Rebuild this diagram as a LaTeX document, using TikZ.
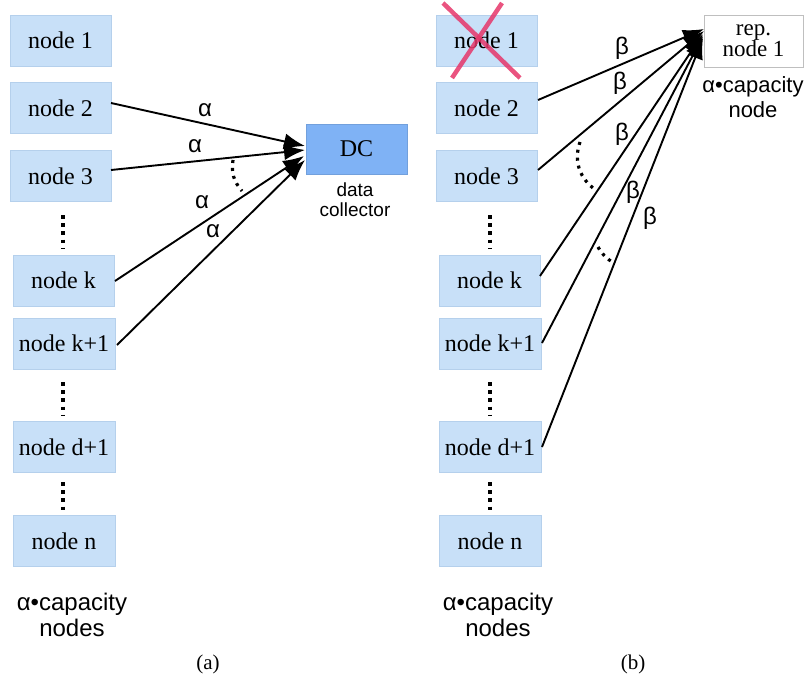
\documentclass[tikz,border=0pt]{standalone}
\usepackage{fontspec}
\setmainfont{Liberation Serif}
\setsansfont{Liberation Sans}
\usetikzlibrary{arrows.meta}
\definecolor{boxblue}{HTML}{C8E0F8}
\definecolor{boxedge}{HTML}{B5D0EC}
\definecolor{dcblue}{HTML}{7FB2F5}
\definecolor{xred}{HTML}{E6366A}
\tikzset{
  nbox/.style={fill=boxblue, draw=boxedge, line width=0.6pt, minimum width=101pt, minimum height=51pt, inner sep=0pt, font=\fontsize{24}{26}\selectfont},
  dcbox/.style={fill=dcblue, draw=dcblue!90!black, line width=0.6pt, minimum width=101pt, minimum height=50pt, inner sep=0pt, font=\fontsize{24}{26}\selectfont},
  repbox/.style={fill=white, draw=black!25, line width=1pt, minimum width=99pt, minimum height=52pt, inner sep=0pt, align=center, font=\fontsize{23}{21}\selectfont},
  flow/.style={line width=1.9pt, -{Latex[length=21pt,width=16pt]}},
  glab/.style={font=\sffamily\fontsize{24}{24}\selectfont, inner sep=0pt},
  vdots/.style={line width=3.6pt, dash pattern=on 3.6pt off 4.6pt},
  arcdots/.style={line width=3.2pt, dash pattern=on 3pt off 5pt},
  caplab/.style={font=\sffamily\fontsize{24}{26}\selectfont, align=center, inner sep=0pt},
  smallcap/.style={font=\sffamily\fontsize{19}{20}\selectfont, align=center, inner sep=0pt},
  sublab/.style={font=\fontsize{21}{22}\selectfont, inner sep=0pt},
  xline/.style={xred, opacity=0.85, line width=4.5pt}
}
\begin{document}
\begin{tikzpicture}[x=1pt, y=-1pt]
\useasboundingbox (0,0) rectangle (809,680);
% ---------- (a) ----------
\node[nbox] (a1) at (60.5,40.5) {node 1};
\node[nbox] (a2) at (60.5,108) {node 2};
\node[nbox] (a3) at (60.5,176) {node 3};
\node[nbox] (ak) at (63.5,280.5) {node k};
\node[nbox, minimum width=102pt] (ak1) at (64,343.5) {node k+1};
\node[nbox, minimum width=102pt] (ad1) at (64,447) {node d+1};
\node[nbox, minimum width=102pt] (an) at (64,541) {node n};
\node[dcbox] (dc) at (356.5,149) {DC};
\node[smallcap] (dclab) at (355,200) {data\\collector};
\node[caplab] (acap) at (72,615) {α•capacity\\nodes};
\node[sublab] (suba) at (208,664) {(a)};

\coordinate (ea2) at (111,103);
\coordinate (ea3) at (111,170);
\coordinate (eak) at (115,281);
\coordinate (eak1) at (117,345);
\coordinate (ta2) at (305,146);
\coordinate (ta3) at (305,150);
\coordinate (tak) at (304,156);
\coordinate (tak1) at (305,160);
\draw[flow] (ea2) -- (ta2);
\draw[flow] (ea3) -- (ta3);
\draw[flow] (eak) -- (tak);
\draw[flow] (eak1) -- (tak1);
\node[glab] (la1) at (205,110) {α};
\node[glab] (la2) at (195,146) {α};
\node[glab] (la3) at (202,202) {α};
\node[glab] (la4) at (213,231) {α};
\coordinate (arcA1) at (233,160);
\coordinate (arcA2) at (242,191);
\draw[arcdots] (arcA1) to[bend right=25] (arcA2);

\coordinate (va1) at (63,215);
\coordinate (va2) at (63,249);
\coordinate (va3) at (63,382);
\coordinate (va4) at (63,415);
\coordinate (va5) at (63,482);
\coordinate (va6) at (63,514);
\draw[vdots] (va1) -- (va2);
\draw[vdots] (va3) -- (va4);
\draw[vdots] (va5) -- (va6);

% ---------- (b) ----------
\node[nbox] (b1) at (486.5,40.5) {node 1};
\node[nbox] (b2) at (486.5,108) {node 2};
\node[nbox] (b3) at (486.5,176) {node 3};
\node[nbox] (bk) at (489.5,280.5) {node k};
\node[nbox, minimum width=102pt] (bk1) at (490,343.5) {node k+1};
\node[nbox, minimum width=102pt] (bd1) at (490,447) {node d+1};
\node[nbox, minimum width=102pt] (bn) at (490,541) {node n};
\node[repbox] (rep) at (753.5,41) {rep.\\node 1};
\node[caplab, font=\sffamily\fontsize{22}{25}\selectfont] (replab) at (753,97) {α•capacity\\node};
\node[caplab] (bcap) at (498,615) {α•capacity\\nodes};
\node[sublab] (subb) at (633,664) {(b)};

\coordinate (xa) at (443,3);
\coordinate (xb) at (520,78);
\coordinate (xc) at (502,3);
\coordinate (xd) at (452,78);
\draw[xline] (xa) -- (xb);
\draw[xline] (xc) -- (xd);

\coordinate (eb2) at (538,100);
\coordinate (eb3) at (538,170);
\coordinate (ebk) at (540,276);
\coordinate (ebk1) at (542,343);
\coordinate (ebd1) at (542,447);
\coordinate (tb2) at (704,29);
\coordinate (tb3) at (704,31);
\coordinate (tbk) at (703,34);
\coordinate (tbk1) at (703,36);
\coordinate (tbd1) at (703,38);
\draw[flow] (eb2) -- (tb2);
\draw[flow] (eb3) -- (tb3);
\draw[flow] (ebk) -- (tbk);
\draw[flow] (ebk1) -- (tbk1);
\draw[flow] (ebd1) -- (tbd1);
\node[glab] (lb1) at (622,48) {β};
\node[glab] (lb2) at (620,83) {β};
\node[glab] (lb3) at (622,134) {β};
\node[glab] (lb4) at (633,192) {β};
\node[glab] (lb5) at (650,218) {β};
\coordinate (arcB1) at (580,142);
\coordinate (arcB2) at (593,188);
\draw[arcdots] (arcB1) to[bend right=35] (arcB2);
\coordinate (arcB3) at (598,247);
\coordinate (arcB4) at (614,263);
\draw[arcdots] (arcB3) to[bend right=15] (arcB4);

\coordinate (vb1) at (490,215);
\coordinate (vb2) at (490,249);
\coordinate (vb3) at (490,382);
\coordinate (vb4) at (490,415);
\coordinate (vb5) at (490,482);
\coordinate (vb6) at (490,514);
\draw[vdots] (vb1) -- (vb2);
\draw[vdots] (vb3) -- (vb4);
\draw[vdots] (vb5) -- (vb6);
\end{tikzpicture}
\end{document}
